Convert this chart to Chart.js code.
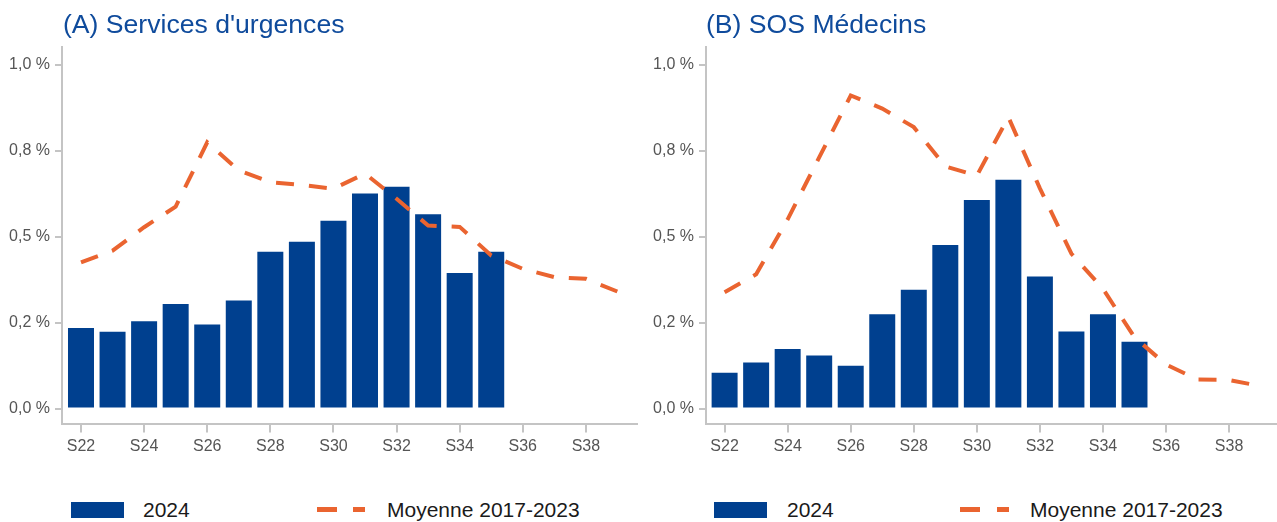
<!DOCTYPE html>
<html>
<head>
<meta charset="utf-8">
<script src="https://cdn.jsdelivr.net/npm/chart.js@4.4.1/dist/chart.umd.min.js"></script>
<style>
  body { margin: 0; background: #fff; font-family: "Liberation Sans", Arial, sans-serif; }
  #wrap { position: relative; width: 1277px; height: 522px; overflow: hidden; }
  .panel { position: absolute; top: 0; height: 470px; }
  .title { position: absolute; top: 9px; font-size: 26.6px; line-height: 30px; color: #0f4b9c; white-space: nowrap; }
  .leg { position: absolute; font-size: 21px; line-height: 24px; color: #1a1a1a; white-space: nowrap; }
  .box { position: absolute; background: #00408f; }
  .dash { position: absolute; background: #ea6430; }
</style>
</head>
<body>
<div id="wrap">
  <div class="panel" style="left:0;width:640px"><canvas id="chartA"></canvas></div>
  <div class="panel" style="left:644px;width:633px"><canvas id="chartB"></canvas></div>

  <div class="title" style="left:63px">(A) Services d'urgences</div>
  <div class="title" style="left:706px">(B) SOS Médecins</div>

  <!-- legend A -->
  <div class="box" style="left:71px;top:502px;width:53px;height:16px"></div>
  <div class="leg" style="left:143px;top:498px">2024</div>
  <div class="dash" style="left:317px;top:507px;width:20px;height:5px"></div>
  <div class="dash" style="left:353px;top:507px;width:12px;height:5px"></div>
  <div class="leg" style="left:387px;top:498px">Moyenne 2017-2023</div>

  <!-- legend B -->
  <div class="box" style="left:714px;top:502px;width:53px;height:16px"></div>
  <div class="leg" style="left:787px;top:498px">2024</div>
  <div class="dash" style="left:960px;top:507px;width:20px;height:5px"></div>
  <div class="dash" style="left:997px;top:507px;width:12px;height:5px"></div>
  <div class="leg" style="left:1030px;top:498px">Moyenne 2017-2023</div>
</div>

<script>
// =============================
// DATA
// =============================
const barWeeks = [22, 23, 24, 25, 26, 27, 28, 29, 30, 31, 32, 33, 34, 35];
const lineWeeks = [22, 23, 24, 25, 26, 27, 28, 29, 30, 31, 32, 33, 34, 35, 36, 37, 38, 39];
const tickWeeks = [22, 24, 26, 28, 30, 32, 34, 36, 38];

const yTickValues = [0, 0.25, 0.5, 0.75, 1];
const yTickLabels = ["0,0 %", "0,2 %", "0,5 %", "0,8 %", "1,0 %"];

// (A) Services d'urgences
const urgences2024 = [0.234, 0.223, 0.254, 0.304, 0.244, 0.314, 0.456, 0.485, 0.546, 0.625, 0.645, 0.565, 0.394, 0.456];
const urgencesMoy = [0.425, 0.459, 0.527, 0.587, 0.774, 0.692, 0.658, 0.650, 0.639, 0.683, 0.610, 0.532, 0.528, 0.445, 0.406, 0.382, 0.377, 0.340];

// (B) SOS Médecins
const sos2024 = [0.104, 0.134, 0.173, 0.154, 0.124, 0.274, 0.345, 0.475, 0.606, 0.665, 0.384, 0.224, 0.274, 0.194];
const sosMoy = [0.338, 0.390, 0.550, 0.730, 0.910, 0.872, 0.818, 0.704, 0.677, 0.847, 0.640, 0.450, 0.348, 0.207, 0.128, 0.084, 0.083, 0.065];

const BLUE = "#00408f";
const ORANGE = "#ea6430";
const AXIS = "#c4c4c4";
const TEXT = "#555555";

function pairs(xs, ys) {
  return ys.map((v, i) => ({ x: xs[i], y: v }));
}

// =============================
// CREATE CHART
// =============================
function makeChart(id, bars, line, xMin, xMax, padRight) {
  let ctx = document.getElementById(id);
  if (!ctx) return;

  return new Chart(ctx, {
    data: {
      datasets: [
        {
          type: "line",
          label: "Moyenne 2017-2023",
          data: pairs(lineWeeks, line),
          borderColor: ORANGE,
          borderWidth: 4,
          borderDash: [18, 15],
          borderCapStyle: "butt",
          pointRadius: 0,
          tension: 0,
          fill: false,
          order: 0
        },
        {
          type: "bar",
          label: "2024",
          data: pairs(barWeeks, bars),
          backgroundColor: BLUE,
          borderWidth: 0,
          barPercentage: 0.824,
          categoryPercentage: 1,
          order: 1
        }
      ]
    },
    options: {
      responsive: true,
      maintainAspectRatio: false,
      animation: false,
      layout: { padding: { top: 47, left: 0, right: padRight, bottom: 0 } },
      plugins: {
        legend: { display: false },
        tooltip: { enabled: false }
      },
      scales: {
        x: {
          type: "linear",
          offset: false,
          min: xMin,
          max: xMax,
          afterBuildTicks: function (s) {
            s.ticks = tickWeeks.map(v => ({ value: v }));
          },
          afterFit: function (s) { s.height = 46.5; },
          ticks: {
            color: TEXT,
            font: { family: "Liberation Sans", size: 16 },
            padding: 4,
            maxRotation: 0,
            autoSkip: false,
            callback: v => "S" + v
          },
          grid: {
            display: true,
            offset: false,
            drawOnChartArea: false,
            drawTicks: true,
            tickLength: 9,
            color: AXIS,
            lineWidth: 2
          },
          border: { display: true, color: AXIS, width: 2 }
        },
        y: {
          min: -0.0436,
          max: 1.051,
          afterBuildTicks: function (s) {
            s.ticks = yTickValues.map(v => ({ value: v }));
          },
          afterFit: function (s) { s.width = 62; },
          ticks: {
            color: TEXT,
            font: { family: "Liberation Sans", size: 16 },
            padding: 5,
            callback: function (v) {
              let i = yTickValues.indexOf(v);
              return i >= 0 ? yTickLabels[i] : "";
            }
          },
          grid: {
            display: true,
            drawOnChartArea: false,
            drawTicks: true,
            tickLength: 7,
            color: AXIS,
            lineWidth: 2
          },
          border: { display: true, color: AXIS, width: 2 }
        }
      }
    }
  });
}

document.addEventListener("DOMContentLoaded", () => {
  makeChart("chartA", urgences2024, urgencesMoy, 21.398, 39.61, 3.3);
  makeChart("chartB", sos2024, sosMoy, 21.41, 39.52, 0);
});
</script>
</body>
</html>
